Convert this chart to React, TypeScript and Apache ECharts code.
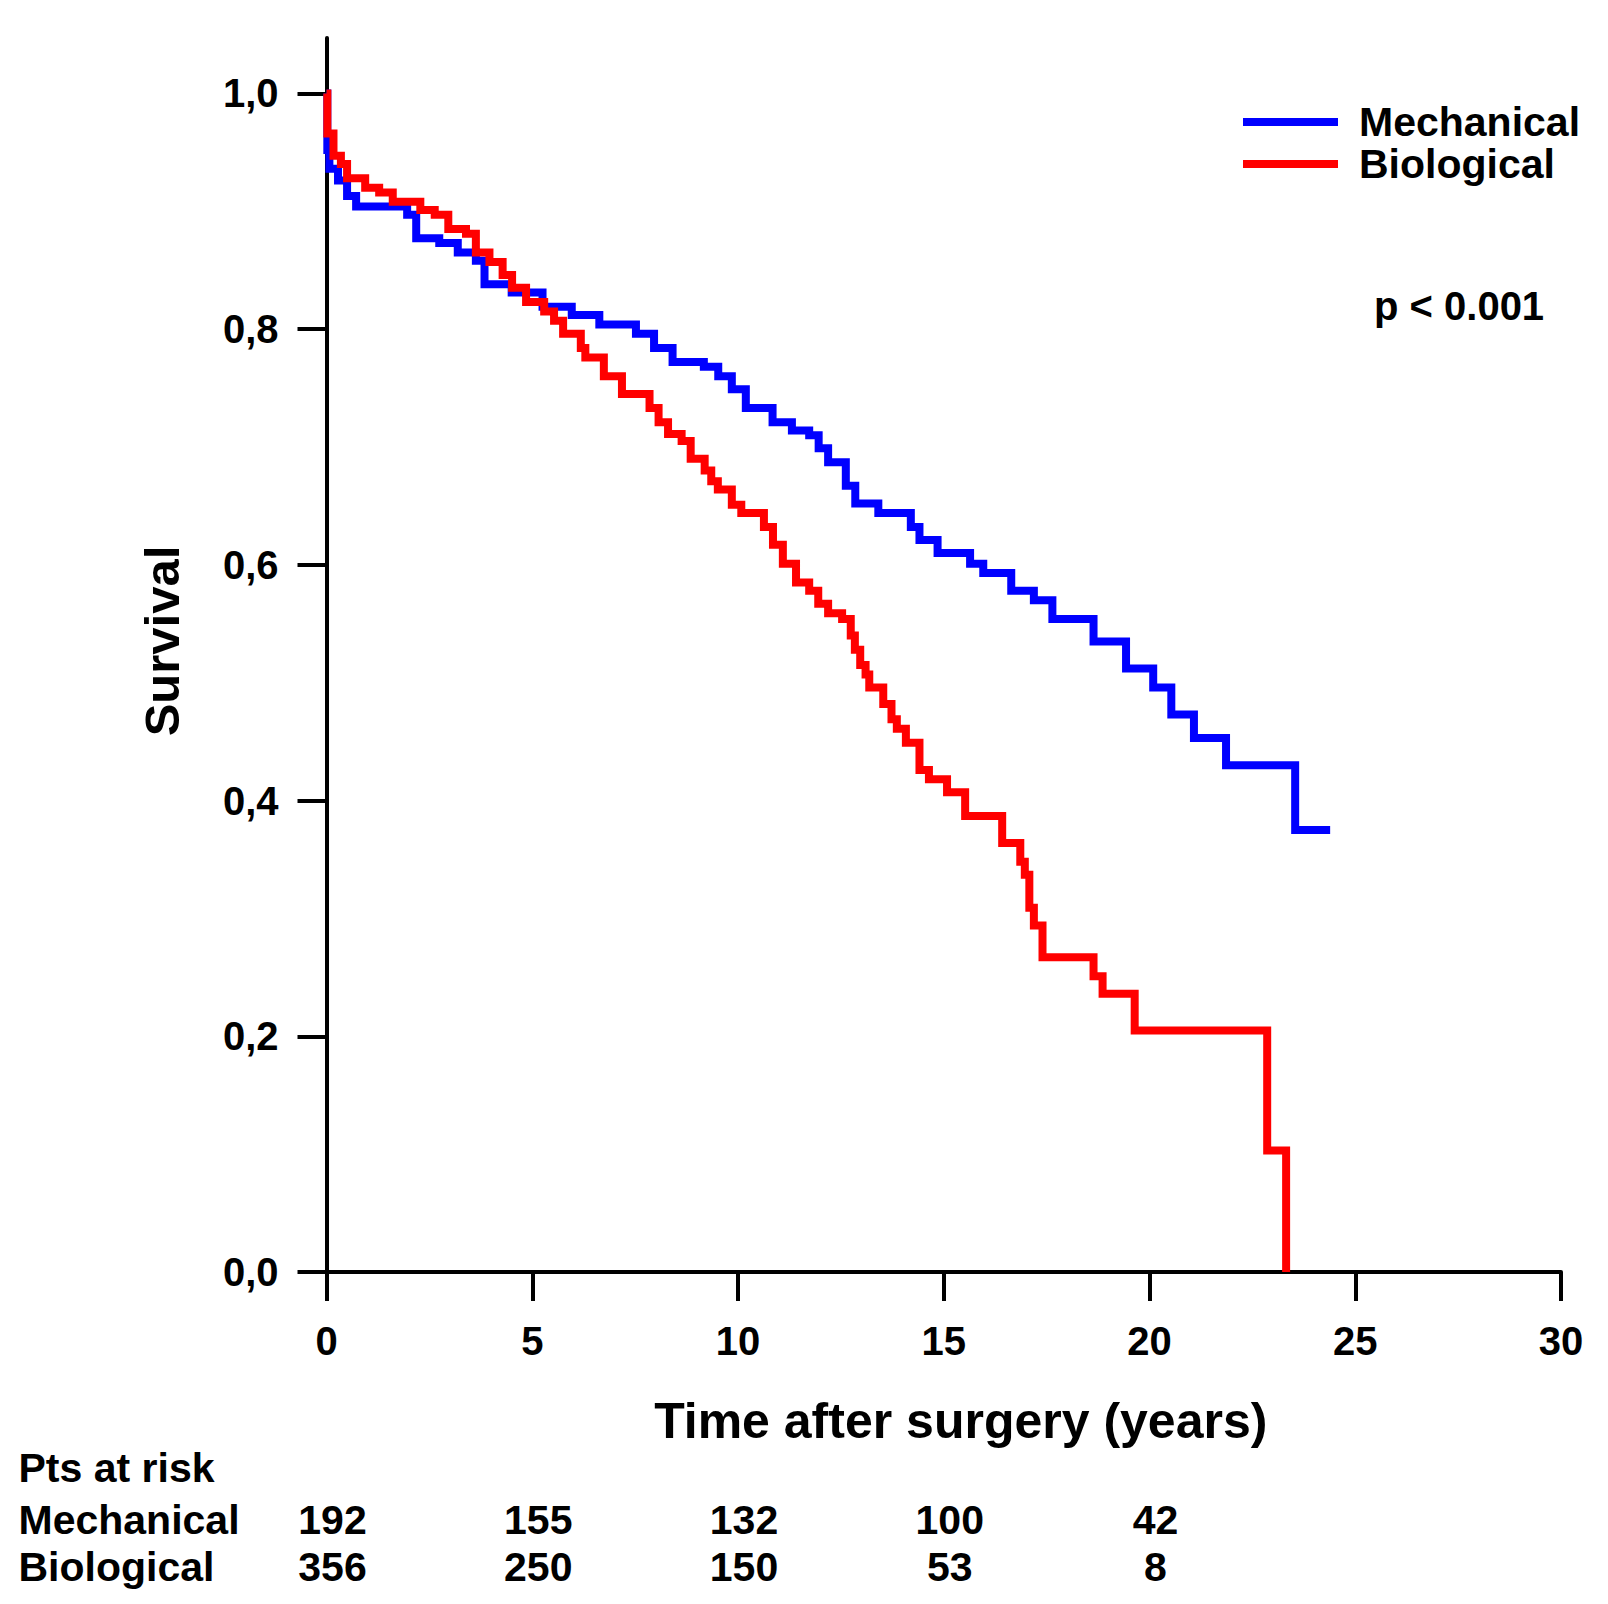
import React, { useEffect, useRef } from 'react';
import * as echarts from 'echarts';

// Kaplan-Meier steps (time in years, survival)
const mechanicalTimes = [0, 0.02, 0.07, 0.28, 0.5, 0.72, 1.96, 2.18, 2.74, 3.19, 3.63, 3.84, 4.5, 5.25, 5.96, 6.63, 7.52, 7.96, 8.41, 9.17, 9.52, 9.85, 10.19, 10.84, 11.31, 11.73, 11.96, 12.19, 12.62, 12.85, 13.41, 14.2, 14.41, 14.85, 15.64, 15.96, 16.64, 17.19, 17.64, 18.64, 19.43, 20.09, 20.53, 21.08, 21.86, 23.54, 24.39];
const mechanicalSurvival = [1, 0.952, 0.936, 0.926, 0.913, 0.904, 0.897, 0.877, 0.873, 0.865, 0.858, 0.838, 0.831, 0.819, 0.812, 0.804, 0.796, 0.784, 0.772, 0.768, 0.76, 0.749, 0.733, 0.721, 0.714, 0.71, 0.699, 0.687, 0.667, 0.652, 0.644, 0.632, 0.621, 0.61, 0.601, 0.593, 0.578, 0.57, 0.554, 0.535, 0.512, 0.496, 0.473, 0.453, 0.43, 0.375, 0.375];

const biologicalTimes = [0, 0.02, 0.17, 0.35, 0.5, 0.94, 1.28, 1.61, 2.28, 2.63, 2.96, 3.39, 3.63, 3.96, 4.28, 4.51, 4.85, 5.29, 5.53, 5.75, 6.18, 6.29, 6.74, 7.18, 7.85, 8.07, 8.3, 8.63, 8.85, 9.19, 9.35, 9.51, 9.85, 10.08, 10.63, 10.85, 11.09, 11.41, 11.73, 11.95, 12.19, 12.53, 12.74, 12.84, 12.97, 13.1, 13.19, 13.53, 13.73, 13.86, 14.08, 14.41, 14.64, 15.08, 15.52, 16.42, 16.86, 16.97, 17.08, 17.19, 17.4, 18.64, 18.86, 19.64, 22.86, 23.32];
const biologicalSurvival = [1, 0.966, 0.947, 0.94, 0.928, 0.92, 0.916, 0.908, 0.901, 0.897, 0.885, 0.881, 0.865, 0.857, 0.846, 0.835, 0.823, 0.815, 0.807, 0.796, 0.784, 0.776, 0.76, 0.745, 0.733, 0.721, 0.711, 0.705, 0.69, 0.68, 0.671, 0.664, 0.651, 0.644, 0.632, 0.617, 0.601, 0.585, 0.578, 0.567, 0.559, 0.554, 0.54, 0.528, 0.515, 0.507, 0.496, 0.482, 0.469, 0.461, 0.449, 0.426, 0.418, 0.407, 0.387, 0.364, 0.348, 0.337, 0.309, 0.294, 0.267, 0.251, 0.236, 0.205, 0.103, 0];

// Patients at risk table
const riskRows = ['Mechanical', 'Biological'];
const riskTimes = [0, 5, 10, 15, 20];
const mechanicalAtRisk = [192, 155, 132, 100, 42];
const biologicalAtRisk = [356, 250, 150, 53, 8];

// Axis ticks
const yTickValues = [0, 0.2, 0.4, 0.6, 0.8, 1.0];
const xMin = 0;
const xMax = 30;
const xInterval = 5;

const FONT = 'Liberation Sans';

export default function App() {
  const ref = useRef<HTMLDivElement>(null);

  useEffect(() => {
    document.body.style.margin = '0';
    const chart = echarts.init(ref.current as HTMLDivElement, null, { renderer: 'svg' });

    const zip = (t: number[], s: number[]) => t.map((v, i) => [v, s[i]]);
    const riskData = (vals: number[], row: string) =>
      riskTimes.map((t, i) => [t, row, vals[i]]);

    const riskLabel = {
      show: true,
      position: 'inside',
      offset: [6, 0],
      formatter: (p: any) => String(p.value[2]),
      fontSize: 41,
      fontWeight: 'bold',
      fontFamily: FONT,
      color: '#000000',
      opacity: 1,
      textBorderWidth: 0,
      textBorderColor: 'transparent',
    };

    const option: any = {
      animation: false,
      backgroundColor: '#ffffff',
      textStyle: { fontFamily: FONT, fontWeight: 'bold', color: '#000' },
      grid: [
        { left: 326.5, right: 47, top: 38, bottom: 332, outerBoundsMode: 'none' },
        { left: 326.5, right: 47, top: 1496, height: 94, outerBoundsMode: 'none' },
      ],
      legend: {
        data: ['Mechanical', 'Biological'],
        orient: 'vertical',
        left: 1243,
        top: 101,
        padding: 0,
        itemGap: 0,
        itemWidth: 95,
        itemHeight: 8,
        icon: 'rect',
        selectedMode: false,
        textStyle: {
          fontSize: 41,
          fontWeight: 'bold',
          fontFamily: FONT,
          color: '#000',
          lineHeight: 42,
          padding: [0, 0, 0, 16],
        },
      },
      xAxis: [
        {
          type: 'value',
          gridIndex: 0,
          min: xMin,
          max: xMax,
          interval: xInterval,
          name: 'Time after surgery (years)',
          nameLocation: 'middle',
          nameGap: 124,
          nameTextStyle: {
            fontSize: 50,
            fontWeight: 'bold',
            fontFamily: FONT,
            color: '#000',
            padding: [0, 0, 0, 34],
          },
          axisLine: { show: true, onZero: false, lineStyle: { color: '#000', width: 4 } },
          axisTick: { show: true, length: 29, lineStyle: { color: '#000', width: 4 } },
          axisLabel: { fontSize: 40, margin: 49, color: '#000', fontWeight: 'bold', fontFamily: FONT },
          splitLine: { show: false },
        },
        { type: 'value', gridIndex: 1, min: xMin, max: xMax, show: false },
      ],
      yAxis: [
        {
          type: 'value',
          gridIndex: 0,
          min: 0,
          max: 1.047,
          name: 'Survival',
          nameLocation: 'middle',
          nameRotate: 90,
          nameGap: 140,
          nameTextStyle: {
            fontSize: 49,
            fontWeight: 'bold',
            fontFamily: FONT,
            color: '#000',
            padding: [0, 0, 0, 28],
          },
          axisLine: { show: true, onZero: false, lineStyle: { color: '#000', width: 4 } },
          axisTick: { show: true, length: 29, customValues: yTickValues, lineStyle: { color: '#000', width: 4 } },
          axisLabel: {
            fontSize: 40,
            margin: 48,
            color: '#000',
            fontWeight: 'bold',
            fontFamily: FONT,
            customValues: yTickValues,
            formatter: (v: number) => v.toFixed(1).replace('.', ','),
          },
          splitLine: { show: false },
        },
        {
          type: 'category',
          gridIndex: 1,
          data: riskRows,
          inverse: true,
          axisLine: { show: false },
          axisTick: { show: false },
          splitLine: { show: false },
          axisLabel: {
            interval: 0,
            margin: 308,
            align: 'left',
            fontSize: 41,
            fontWeight: 'bold',
            fontFamily: FONT,
            color: '#000',
          },
        },
      ],
      series: [
        {
          name: 'Mechanical',
          type: 'line',
          step: 'end',
          xAxisIndex: 0,
          yAxisIndex: 0,
          data: zip(mechanicalTimes, mechanicalSurvival),
          symbol: 'none',
          clip: false,
          itemStyle: { color: '#0000ff' },
          lineStyle: { color: '#0000ff', width: 8, cap: 'butt', join: 'miter' },
          z: 3,
        },
        {
          name: 'Biological',
          type: 'line',
          step: 'end',
          xAxisIndex: 0,
          yAxisIndex: 0,
          data: zip(biologicalTimes, biologicalSurvival),
          symbol: 'none',
          clip: false,
          itemStyle: { color: '#ff0000' },
          lineStyle: { color: '#ff0000', width: 8, cap: 'butt', join: 'miter' },
          z: 4,
        },
        {
          name: 'risk-mechanical',
          type: 'scatter',
          xAxisIndex: 1,
          yAxisIndex: 1,
          data: riskData(mechanicalAtRisk, riskRows[0]),
          symbolSize: 0,
          itemStyle: { color: '#000000' },
          label: riskLabel,
          silent: true,
        },
        {
          name: 'risk-biological',
          type: 'scatter',
          xAxisIndex: 1,
          yAxisIndex: 1,
          data: riskData(biologicalAtRisk, riskRows[1]),
          symbolSize: 0,
          itemStyle: { color: '#000000' },
          label: riskLabel,
          silent: true,
        },
      ],
      graphic: [
        {
          type: 'text',
          x: 18.5,
          y: 1468,
          style: {
            text: 'Pts at risk',
            fill: '#000',
            font: `bold 41px "${FONT}"`,
            align: 'left',
            verticalAlign: 'middle',
          },
        },
        {
          type: 'text',
          x: 1374,
          y: 306,
          style: {
            text: 'p < 0.001',
            fill: '#000',
            font: `bold 40px "${FONT}"`,
            align: 'left',
            verticalAlign: 'middle',
          },
        },
      ],
    };

    chart.setOption(option);
    return () => {
      chart.dispose();
    };
  }, []);

  return (
    <div
      ref={ref}
      style={{ position: 'absolute', left: 0, top: 0, width: 1608, height: 1604, background: '#fff' }}
    />
  );
}
